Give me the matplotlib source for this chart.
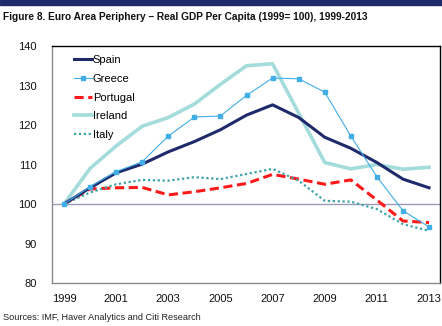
import numpy as np
import matplotlib.pyplot as plt
import matplotlib as mpl

mpl.rcParams['font.family'] = ['Liberation Sans', 'DejaVu Sans']

years = np.arange(1999, 2014)
spain = [100, 104.1, 107.9, 110.1, 113.2, 115.8, 118.8, 122.5, 125.1, 121.9, 116.9, 114.1, 110.5, 106.3, 104.1]
greece = [100, 104.4, 108.2, 110.7, 117.2, 122.0, 122.3, 127.5, 131.9, 131.7, 128.3, 117.2, 106.9, 98.3, 94.2]
portugal = [100, 103.8, 104.1, 104.2, 102.3, 103.1, 104.1, 105.2, 107.5, 106.3, 105.0, 106.1, 101.0, 95.7, 95.3]
ireland = [100, 109.0, 114.7, 119.7, 121.9, 125.3, 130.3, 135.0, 135.5, 123.0, 110.5, 108.9, 110.0, 108.8, 109.3]
italy = [100, 102.9, 105.0, 106.1, 105.9, 106.8, 106.3, 107.6, 108.9, 105.9, 100.8, 100.6, 98.7, 94.9, 93.2]

fig = plt.figure(figsize=(4.42, 3.26), dpi=100)

# navy strip along the top
fig.patches.append(plt.Rectangle((0, 1 - 5/326), 1, 5/326, transform=fig.transFigure,
                                 color='#1f2a6b', zorder=0))
title = fig.text(3/442, 1 - 17/326, 'Figure 8. Euro Area Periphery \u2013 Real GDP Per Capita (1999= 100), 1999-2013',
                 fontsize=9.5, fontweight='bold', va='center', ha='left', color='#111111')
src = fig.text(3/442, 1 - 318/326, 'Sources: IMF, Haver Analytics and Citi Research',
               fontsize=6.6, va='center', ha='left', color='#222222')

# shrink the title to a fixed width
r = fig.canvas.get_renderer()
w = title.get_window_extent(r).width
title.set_fontsize(9.5 * 367 / w)

ax = fig.add_axes([52/442, 1 - 283/326, 388/442, 237/326])
ax.axhline(100, color='#9a9ab8', lw=1, zorder=1)

ax.plot(years, spain, color='#1f2a6b', lw=2.2, label='Spain', zorder=4)
ax.plot(years, greece, color='#41aee8', lw=0.8, marker='s', ms=3.5, label='Greece', zorder=5)
ax.plot(years, portugal, color='#ff1a1a', lw=2.2, ls=(0, (3, 1.5)), label='Portugal', zorder=3)
ax.plot(years, ireland, color='#a4dcdc', lw=2.6, label='Ireland', zorder=2)
ax.plot(years, italy, color='#3aa3aa', lw=1.6, ls=(0, (1, 1.2)), label='Italy', zorder=3)

ax.set_xlim(1998.54, 2013.42)
ax.set_ylim(80, 140)
ax.set_xticks(years[::2])
ax.set_yticks(np.arange(80, 141, 10))
ax.tick_params(length=0, labelsize=8, colors='#111111')
ax.tick_params(axis='y', pad=11)
ax.tick_params(axis='x', pad=8)

for side in ['top', 'right']:
    ax.spines[side].set_color('black')
    ax.spines[side].set_linewidth(1)
for side in ['left', 'bottom']:
    ax.spines[side].set_color('#8a8a8a')
    ax.spines[side].set_linewidth(1)

ax.legend(loc='upper left', frameon=False, fontsize=8, handlelength=1.6, handletextpad=0.1,
          labelspacing=0.78, borderaxespad=0.0, bbox_to_anchor=(0.045, 0.98))

fig.savefig('out.png', dpi=100)
